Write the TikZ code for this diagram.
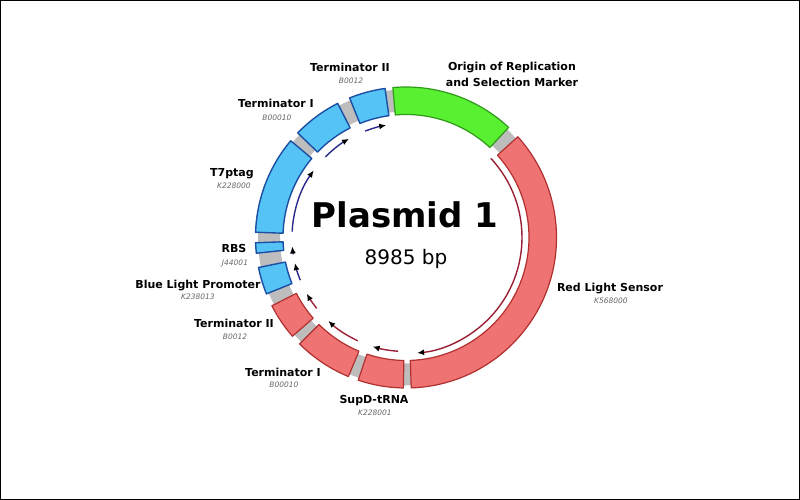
\documentclass[tikz,border=0pt]{standalone}
\usepackage{fontspec}
\setmainfont{DejaVu Sans}
\usetikzlibrary{arrows.meta}
\definecolor{segblue}{HTML}{55C3F5}
\definecolor{segblueline}{HTML}{1C4FA3}
\definecolor{segred}{HTML}{F07373}
\definecolor{segredline}{HTML}{B0302F}
\definecolor{seggreen}{HTML}{5AF032}
\definecolor{seggreenline}{HTML}{2E9A1A}
\definecolor{backbone}{HTML}{BDBDBD}
\definecolor{arrblue}{HTML}{2A2A8C}
\definecolor{arrred}{HTML}{9A2035}
\definecolor{idgray}{HTML}{666666}
\newcommand{\plRout}{150.5pt}
\newcommand{\plRin}{123pt}
\newcommand{\plseg}[3]{\filldraw[#3] (#1:\plRout) arc[start angle=#1,end angle=#2,radius=\plRout] -- (#2:\plRin) arc[start angle=#2,end angle=#1,radius=\plRin] -- cycle;}
\newcommand{\plarr}[4]{\draw[#4] (#1:#3) arc[start angle=#1,end angle=#2,radius=#3];}
\begin{document}
\begin{tikzpicture}[x=1pt,y=1pt,
  bluseg/.style={fill=segblue,draw=segblueline,line width=1.4pt,line join=round},
  redseg/.style={fill=segred,draw=segredline,line width=1.2pt,line join=round},
  grnseg/.style={fill=seggreen,draw=seggreenline,line width=1.2pt,line join=round},
  bluarr/.style={draw=arrblue,line width=1.4pt,-{Latex[length=7pt,width=6pt,black]}},
  redarr/.style={draw=arrred,line width=1.4pt,-{Latex[length=7pt,width=6pt,black]}},
  lbl/.style={font=\bfseries\fontsize{11}{13}\selectfont,anchor=base,inner sep=0pt},
  lid/.style={font=\itshape\fontsize{7.5}{9}\selectfont,text=idgray,anchor=base,inner sep=0pt}]
\useasboundingbox (-406,-262.5) rectangle (394,237.5);
\draw[line width=1.5pt] (-405.25,-261.75) rectangle (393.25,236.75);
% backbone ring
\fill[backbone,even odd rule] (0,0) circle (148pt) (0,0) circle (126pt);
% segments
\plseg{47}{95}{grnseg}
\plseg{98}{112}{bluseg}
\plseg{117}{136}{bluseg}
\plseg{140}{178}{bluseg}
\plseg{182}{186}{bluseg}
\plseg{191.5}{202}{bluseg}
\plseg{207}{221}{redseg}
\plseg{225}{247.5}{redseg}
\plseg{251.5}{269}{redseg}
\plseg{272}{402}{redseg}
% direction arrows
\plarr{111}{100}{114pt}{bluarr}
\plarr{135}{120}{114pt}{bluarr}
\plarr{177}{144}{114pt}{bluarr}
\plarr{188.5}{184.5}{114pt}{bluarr}
\plarr{202}{193}{114pt}{bluarr}
\plarr{218.5}{209.5}{114pt}{redarr}
\plarr{245}{227}{114pt}{redarr}
\plarr{266}{253}{114pt}{redarr}
\plarr{43}{-84.5}{116pt}{redarr}
% centre title
\node[anchor=base,inner sep=0pt,font=\bfseries\fontsize{34}{37}\selectfont] (title) at (-1,9.5) {Plasmid 1};
\node[anchor=base,inner sep=0pt,font=\fontsize{20}{24}\selectfont] (size) at (0,-27.5) {8985 bp};
% labels
\node[lbl] (l1) at (-56,166) {Terminator II};
\node[lid] (i1) at (-55,153.8) {B0012};
\node[lbl] (l2) at (-130,129.5) {Terminator I};
\node[lid] (i2) at (-129,116.8) {B00010};
\node[lbl] (l3a) at (106,167) {Origin of Replication};
\node[lbl] (l3b) at (106,151) {and Selection Marker};
\node[lbl] (l4) at (-174,60.5) {T7ptag};
\node[lid] (i4) at (-172,48.8) {K228000};
\node[lbl] (l5) at (-172,-15.5) {RBS};
\node[lid] (i5) at (-171,-28.2) {J44001};
\node[lbl] (l6) at (-208,-51.5) {Blue Light Promoter};
\node[lid] (i6) at (-208,-62.2) {K238013};
\node[lbl] (l7) at (-172,-90.5) {Terminator II};
\node[lid] (i7) at (-171,-102.2) {B0012};
\node[lbl] (l8) at (-123,-138.5) {Terminator I};
\node[lid] (i8) at (-122,-150.2) {B00010};
\node[lbl] (l9) at (-32,-165.5) {SupD-tRNA};
\node[lid] (i9) at (-31,-178.2) {K228001};
\node[lbl] (l10) at (204,-54.5) {Red Light Sensor};
\node[lid] (i10) at (205,-66.2) {K568000};
\end{tikzpicture}
\end{document}
